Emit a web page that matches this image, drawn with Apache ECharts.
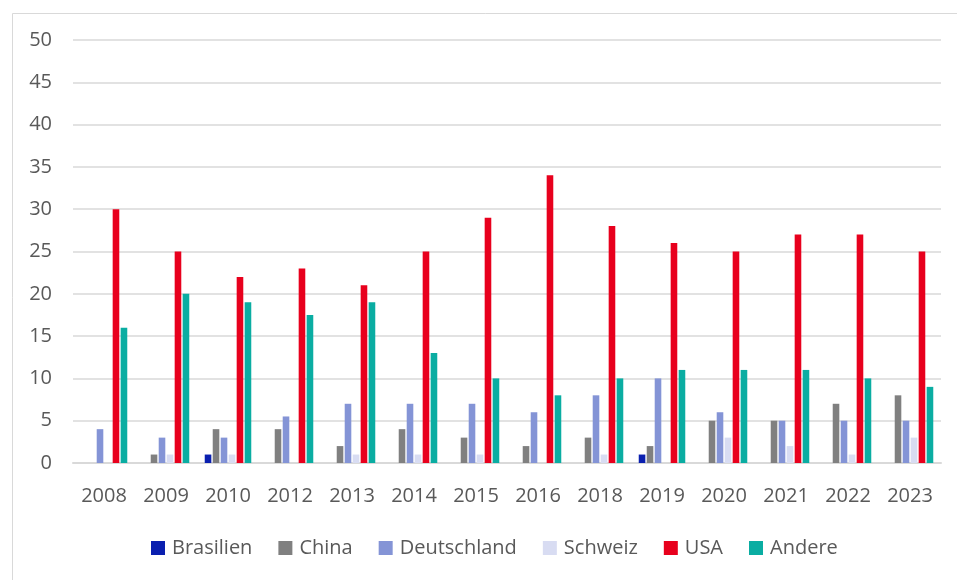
<!DOCTYPE html>
<html>
<head>
<meta charset="utf-8">
<script src="https://cdn.jsdelivr.net/npm/echarts@6/dist/echarts.min.js"></script>
<style>html,body{margin:0;padding:0;background:#fff}#c{width:957px;height:580px}</style>
</head>
<body>
<div id="c"></div>
<script>
const categories = ['2008','2009','2010','2012','2013','2014','2015','2016','2018','2019','2020','2021','2022','2023'];
const brasilien   = [0,0,1,0,0,0,0,0,0,1,0,0,0,0];
const china       = [0,1,4,4,2,4,3,2,3,2,5,5,7,8];
const deutschland = [4,3,3,5.5,7,7,7,6,8,10,6,5,5,5];
const schweiz     = [0,1,1,0,1,1,1,0,1,0,3,2,1,3];
const usa         = [30,25,22,23,21,25,29,34,28,26,25,27,27,25];
const andere      = [16,20,19,17.5,19,13,10,8,10,11,11,11,10,9];
const yTicks = [0,5,10,15,20,25,30,35,40,45,50];

const seriesDefs = [
  ['Brasilien', brasilien, '#0A1FAF'],
  ['China', china, '#808080'],
  ['Deutschland', deutschland, '#8494D6'],
  ['Schweiz', schweiz, '#D8DCF2'],
  ['USA', usa, '#E8001D'],
  ['Andere', andere, '#0AADA2']
];

const font = '"Open Sans", "DejaVu Sans", sans-serif';
const chart = echarts.init(document.getElementById('c'));
chart.setOption({
  animation: false,
  backgroundColor: '#fff',
  graphic: [{
    type: 'rect', left: 10, top: 11, z: -1,
    shape: { width: 980, height: 600 },
    style: { fill: 'none', stroke: '#d9d9d9', lineWidth: 1 }
  }],
  grid: { left: 73, right: 16, top: 40, bottom: 117 },
  legend: {
    left: 151, top: 538, padding: 0,
    itemWidth: 14, itemHeight: 14, itemGap: 26,
    icon: 'rect',
    textStyle: { fontFamily: font, fontSize: 20, color: '#595959', padding: [0,0,0,2] },
    data: seriesDefs.map(s => s[0])
  },
  xAxis: {
    type: 'category',
    data: categories,
    axisLine: { lineStyle: { color: '#d9d9d9', width: 2 } },
    axisTick: { show: false },
    axisLabel: { fontFamily: font, fontSize: 20, color: '#595959', margin: 23 }
  },
  yAxis: {
    type: 'value',
    min: yTicks[0], max: yTicks[yTicks.length-1], interval: 5,
    axisLine: { show: false },
    axisTick: { show: false },
    splitLine: { lineStyle: { color: '#d9d9d9', width: 1.5 } },
    axisLabel: { fontFamily: font, fontSize: 20, color: '#595959', margin: 21 }
  },
  series: seriesDefs.map(s => ({
    name: s[0], type: 'bar', data: s[1],
    barWidth: 6.6, barGap: '21%',
    itemStyle: { color: s[2] }
  }))
});
</script>
</body>
</html>
